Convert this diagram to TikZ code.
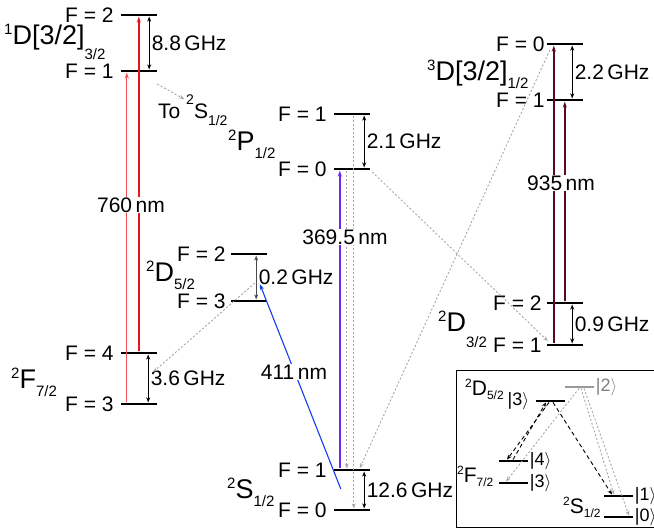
\documentclass[tikz,border=0pt]{standalone}
\usepackage{fontspec}
\setmainfont{Liberation Sans}
\usetikzlibrary{arrows.meta,positioning}
\newcommand{\fsz}{\fontsize{21}{23}\selectfont}
\newcommand{\ksz}{\fontsize{18}{20}\selectfont}
% term symbol: sup, letter, sub, drop of sub
\newcommand{\trm}[4]{{\fontsize{15}{15}\selectfont\raisebox{10pt}{#1}}{\fontsize{27}{27}\selectfont #2}{\fontsize{15}{15}\selectfont\raisebox{-#4}{#3}}}
\newcommand{\itrm}[4]{{\fontsize{12}{12}\selectfont\raisebox{8pt}{#1}}{\fontsize{21}{21}\selectfont #2}{\fontsize{12}{12}\selectfont\raisebox{-#4}{#3}}}
\definecolor{lsred}{RGB}{230,20,30}
\definecolor{lsredlt}{RGB}{240,80,90}
\definecolor{lsuv}{RGB}{110,40,240}
\definecolor{lsblue}{RGB}{20,60,240}
\definecolor{lsir}{RGB}{90,10,30}
\tikzset{
  lvl/.style={rectangle, fill=black, minimum width=36pt, minimum height=2.8pt, inner sep=0pt},
  ilvl/.style={rectangle, fill=black, minimum width=29pt, minimum height=2.4pt, inner sep=0pt},
  flbl/.style={font=\fsz, inner sep=0pt},
  ket/.style={font=\ksz, inner sep=0pt},
  ghz/.style={font=\fsz, inner sep=0pt, anchor=west, xshift=2pt},
  split/.style={{Stealth[length=5pt,width=4pt]}-{Stealth[length=5pt,width=4pt]}, line width=1.1pt},
  laser/.style={-{Stealth[length=6pt,width=4pt]}, line width=1.8pt},
  decay/.style={-{Stealth[length=5pt,width=4pt,open]}, gray!70, dash pattern=on 2pt off 2pt, line width=0.9pt},
  idecay/.style={-{Stealth[length=5pt,width=4pt]}, black, dash pattern=on 4pt off 3pt, line width=0.9pt},
  wl/.style={font=\fsz, fill=white, inner sep=1pt},
  term/.style={anchor=base west, inner sep=0pt},
}
\begin{document}
\begin{tikzpicture}[x=1pt,y=-1pt]
  \clip (0,0) rectangle (654,530);

  % 1D[3/2]3/2
  \node[lvl] (d2) at (139,15) {};
  \node[lvl] (d1) at (139,71) {};
  \node[flbl, left=7pt of d2] (d2l) {F = 2};
  \node[flbl, left=7pt of d1] (d1l) {F = 1};
  \node[term] (dterm) at (4,45) {\trm{1}{D[3/2]}{3/2}{15pt}};

  % 2F7/2
  \node[lvl] (f4) at (139,353) {};
  \node[lvl] (f3) at (139,404) {};
  \node[flbl, left=7pt of f4] (f4l) {F = 4};
  \node[flbl, left=7pt of f3] (f3l) {F = 3};
  \node[term] (fterm) at (11,388) {\trm{2}{F}{7/2}{8pt}};

  % 2D5/2
  \node[lvl] (q2) at (249,254) {};
  \node[lvl] (q3) at (249,301) {};
  \node[flbl, left=5pt of q2] (q2l) {F = 2};
  \node[flbl, left=5pt of q3] (q3l) {F = 3};
  \node[term] (qterm) at (146,281) {\trm{2}{D}{5/2}{8pt}};

  % 2P1/2
  \node[lvl] (p1) at (352,114) {};
  \node[lvl] (p0) at (352,169) {};
  \node[flbl, left=7pt of p1] (p1l) {F = 1};
  \node[flbl, left=7pt of p0] (p0l) {F = 0};
  \node[term] (pterm) at (228,150) {\trm{2}{P}{1/2}{8pt}};

  % 2S1/2
  \node[lvl] (s1) at (352,470) {};
  \node[lvl] (s0) at (352,510) {};
  \node[flbl, left=7pt of s1] (s1l) {F = 1};
  \node[flbl, left=7pt of s0] (s0l) {F = 0};
  \node[term] (sterm) at (227,498) {\trm{2}{S}{1/2}{8pt}};

  % 3D[3/2]1/2
  \node[lvl] (e0) at (565,44) {};
  \node[lvl] (e1) at (565,100) {};
  \node[flbl, left=2pt of e0] (e0l) {F = 0};
  \node[flbl, left=2pt of e1] (e1l) {F = 1};
  \node[term] (eterm) at (427,80) {\trm{3}{D[3/2]}{1/2}{8pt}};

  % 2D3/2
  \node[lvl] (t2) at (565,303) {};
  \node[lvl] (t1) at (565,345) {};
  \node[flbl, left=5pt of t2] (t2l) {F = 2};
  \node[flbl, left=5pt of t1] (t1l) {F = 1};
  \node[term] (tterm) at (438,331) {\trm{2}{D}{3/2}{16pt}};

  % hyperfine splittings
  \draw[split] ([xshift=-8pt]d2.south east) -- ([xshift=-8pt]d1.north east)
        node[midway, ghz] {8.8\,GHz};
  \draw[split] ([xshift=-9pt]f4.south east) -- ([xshift=-9pt]f3.north east)
        node[midway, ghz] {3.6\,GHz};
  \draw[split, black!70] ([xshift=-11pt]q2.south east) -- ([xshift=-11pt]q3.north east)
        node[midway, ghz, black] {0.2\,GHz};
  \draw[split] ([xshift=-6pt]p1.south east) -- ([xshift=-6pt]p0.north east)
        node[midway, ghz] {2.1\,GHz};
  \draw[split] ([xshift=-6pt]s1.south east) -- ([xshift=-6pt]s0.north east)
        node[midway, ghz] {12.6\,GHz};
  \draw[split] ([xshift=-11pt]e0.south east) -- ([xshift=-11pt]e1.north east)
        node[midway, ghz] {2.2\,GHz};
  \draw[split] ([xshift=-11pt]t2.south east) -- ([xshift=-11pt]t1.north east)
        node[midway, ghz] {0.9\,GHz};

  % decays
  \draw[decay] ([yshift=-13pt]d1.east) -- ([shift={(27,28)}]d1.east);
  \node[term, font=\fsz] (tos) at (158,118) {To {\fontsize{14}{14}\selectfont\raisebox{14pt}{2}}S{\fontsize{14}{14}\selectfont\raisebox{-7pt}{1/2}}};
  \draw[decay] ([shift={(24,-18)}]q3.west) -- ([shift={(-4,19)}]f4.east);
  \draw[decay] ([shift={(2,3)}]p0.east) -- ([shift={(1,-4)}]t1.west);
  \draw[decay] ([shift={(3,6)}]e0.west) -- ([shift={(26,-2)}]s1.west);
  \draw[decay] ([xshift=13pt]p0.south west) -- ([xshift=13pt]s1.north west);
  \draw[decay] ([xshift=20pt]p1.south west) -- ([xshift=20pt]s0.north west);

  % lasers
  \draw[laser, lsred] ([xshift=18pt]f4.north west) -- ([xshift=18pt]d2.south west);
  \draw[laser, lsredlt, line width=1.1pt] ([xshift=6pt]f3.north west) -- ([xshift=6pt]d1.south west);
  \draw[laser, lsuv] ([xshift=6pt]s1.north west) -- ([xshift=6pt]p0.south west);
  \draw[laser, lsblue, line width=1.1pt] ([shift={(7,19)}]s1.west) -- ([shift={(29,-17)}]q3.west);
  \draw[laser, lsir] ([xshift=7pt]t1.north west) -- ([xshift=7pt]e0.south west);
  \draw[laser, lsir] ([xshift=18pt]t2.north west) -- ([xshift=18pt]e1.south west);
  \node[wl] (w760) at (131,205) {760\,nm};
  \node[wl] (w369) at (345,237) {369.5\,nm};
  \node[wl] (w935) at (561,183) {935\,nm};
  \node[wl] (w411) at (294,372) {411\,nm};

  % inset
  \draw[line width=0.8pt] (456,370) rectangle (700,527);
  \node[ilvl] (id3) at (550,401) {};
  \node[ilvl, fill=gray!80] (id2) at (579,387) {};
  \node[ilvl] (if4) at (513,461) {};
  \node[ilvl] (if3) at (513,483) {};
  \node[ilvl] (is1) at (618,496) {};
  \node[ilvl] (is0) at (618,517) {};
  \node[ket, left=6pt of id3] (id3l) {|3$\rangle$};
  \node[ket, right=2pt of id2, gray] (id2l) {|2$\rangle$};
  \node[ket, right=2pt of if4] (if4l) {|4$\rangle$};
  \node[ket, right=2pt of if3] (if3l) {|3$\rangle$};
  \node[ket, right=2pt of is1] (is1l) {|1$\rangle$};
  \node[ket, right=2pt of is0] (is0l) {|0$\rangle$};
  \node[term] (idterm) at (465,395) {\itrm{2}{D}{5/2}{4pt}};
  \node[term] (ifterm) at (457,482) {\itrm{2}{F}{7/2}{4pt}};
  \node[term] (isterm) at (563,513) {\itrm{2}{S}{1/2}{4pt}};
  \draw[idecay] ([xshift=-1pt]id3.south) -- ([xshift=-6pt]if4.north);
  \draw[idecay] ([xshift=0pt]if4.north) -- ([xshift=-4pt]id3.south);
  \draw[idecay] ([xshift=3pt]id3.south) -- ([xshift=-6pt]is1.north);
  \draw[decay] (id2.south) -- ([xshift=-7pt]if3.north);
  \draw[decay] ([xshift=2pt]id2.south) -- ([xshift=-4pt]is1.north);
  \draw[decay] ([xshift=5pt]id2.south) -- ([xshift=11pt]is0.north);
\end{tikzpicture}
\end{document}
